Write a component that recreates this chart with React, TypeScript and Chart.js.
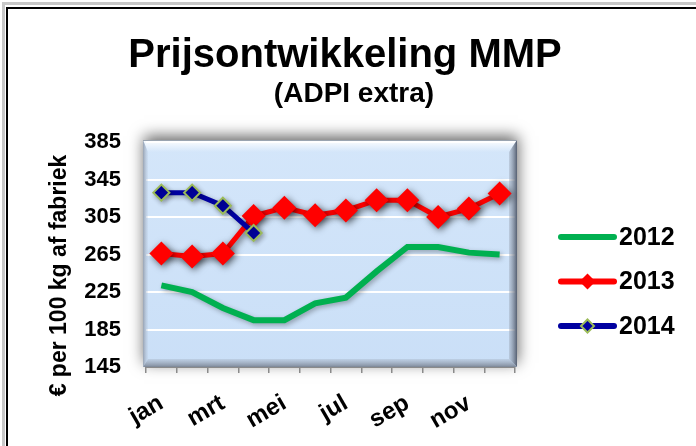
import React, { useEffect, useRef } from 'react';
import { Chart, registerables } from 'chart.js';

Chart.register(...registerables);

const FONT = '"Liberation Sans", Arial, Helvetica, sans-serif';

const months = ['jan', 'feb', 'mrt', 'apr', 'mei', 'jun', 'jul', 'aug', 'sep', 'okt', 'nov', 'dec'];
const seriesLabels = ['2012', '2013', '2014'];
const values2012 = [232, 225, 208, 195, 195, 213, 219, 247, 273, 273, 267, 265];
const values2013 = [266, 263, 266, 306, 315, 307, 312, 323, 323, 305, 314, 330];
const values2014 = [331, 331, 317, 288, null, null, null, null, null, null, null, null];
const yMin = 145;
const yMax = 385;
const yStep = 40;

const titleText = 'Prijsontwikkeling MMP';
const subtitleText = '(ADPI extra)';
const yTitleText = '€ per 100 kg af fabriek';

function diamond(ctx: CanvasRenderingContext2D, x: number, y: number, r: number) {
  ctx.beginPath();
  ctx.moveTo(x, y - r);
  ctx.lineTo(x + r, y);
  ctx.lineTo(x, y + r);
  ctx.lineTo(x - r, y);
  ctx.closePath();
}

const decor = {
  id: 'decor',
  beforeDraw(chart: any) {
    const { ctx, chartArea: a } = chart;
    ctx.save();
    ctx.fillStyle = '#ffffff';
    ctx.fillRect(0, 0, chart.width, chart.height);
    // outer frame
    ctx.strokeStyle = '#c8c8c8';
    ctx.lineWidth = 3;
    ctx.strokeRect(3.5, 3.5, chart.width + 10, chart.height + 10);
    ctx.strokeStyle = '#000000';
    ctx.lineWidth = 2;
    ctx.beginPath();
    ctx.moveTo(7, chart.height);
    ctx.lineTo(7, 8);
    ctx.lineTo(chart.width, 8);
    ctx.stroke();

    // plot box with shadow
    const bx = a.left - 3, by = a.top - 2, bw = a.right + 2 - bx, bh = a.bottom - by;
    ctx.shadowColor = 'rgba(0,0,0,0.6)';
    ctx.shadowBlur = 14;
    ctx.shadowOffsetX = 1;
    ctx.shadowOffsetY = -4;
    ctx.fillStyle = '#cfe2f8';
    ctx.fillRect(bx, by, bw, bh);
    ctx.shadowColor = 'rgba(0,0,0,0)';
    ctx.shadowBlur = 0;
    const g = ctx.createLinearGradient(0, by, 0, by + bh);
    g.addColorStop(0, '#d4e6fa');
    g.addColorStop(1, '#cadff7');
    ctx.fillStyle = g;
    ctx.fillRect(bx, by, bw, bh);
    ctx.restore();
  },
  beforeDatasetsDraw(chart: any) {
    const { ctx, chartArea: a } = chart;
    const bx = a.left - 3, by = a.top - 2, bw = a.right + 2 - bx, bh = a.bottom - by;
    const x2 = bx + bw, y2 = by + bh;
    const t = 12, r = 8, b = 8, l = 5;
    ctx.save();
    // top bevel
    let g = ctx.createLinearGradient(0, by, 0, by + t);
    g.addColorStop(0, 'rgba(255,255,255,0.95)');
    g.addColorStop(1, 'rgba(255,255,255,0)');
    ctx.fillStyle = g;
    ctx.beginPath();
    ctx.moveTo(bx, by); ctx.lineTo(x2, by); ctx.lineTo(x2 - r, by + t); ctx.lineTo(bx + l, by + t); ctx.closePath();
    ctx.fill();
    // left bevel
    g = ctx.createLinearGradient(bx, 0, bx + l, 0);
    g.addColorStop(0, '#98a3b3');
    g.addColorStop(1, 'rgba(180,195,215,0.2)');
    ctx.fillStyle = g;
    ctx.beginPath();
    ctx.moveTo(bx, by); ctx.lineTo(bx + l, by + t); ctx.lineTo(bx + l, y2 - b); ctx.lineTo(bx, y2); ctx.closePath();
    ctx.fill();
    // right bevel
    g = ctx.createLinearGradient(x2 - r, 0, x2, 0);
    g.addColorStop(0, 'rgba(150,160,175,0.35)');
    g.addColorStop(1, '#566072');
    ctx.fillStyle = g;
    ctx.beginPath();
    ctx.moveTo(x2, by); ctx.lineTo(x2, y2); ctx.lineTo(x2 - r, y2 - b); ctx.lineTo(x2 - r, by + t); ctx.closePath();
    ctx.fill();
    // bottom bevel
    g = ctx.createLinearGradient(0, y2 - b, 0, y2);
    g.addColorStop(0, 'rgba(150,160,175,0.25)');
    g.addColorStop(1, '#7f8a9b');
    ctx.fillStyle = g;
    ctx.beginPath();
    ctx.moveTo(bx, y2); ctx.lineTo(x2, y2); ctx.lineTo(x2 - r, y2 - b); ctx.lineTo(bx + l, y2 - b); ctx.closePath();
    ctx.fill();
    // top edge line
    ctx.strokeStyle = '#9aa4b0';
    ctx.lineWidth = 1;
    ctx.beginPath();
    ctx.moveTo(bx, by + 0.5); ctx.lineTo(x2, by + 0.5);
    ctx.stroke();
    ctx.restore();
  },
  beforeDatasetDraw(chart: any, args: any) {
    const ctx = chart.ctx;
    ctx.save();
    const idx = args.index;
    ctx.shadowColor = idx === 1 ? 'rgba(0,0,0,0.6)' : 'rgba(0,0,0,0.3)';
    ctx.shadowBlur = idx === 1 ? 7 : 5;
    ctx.shadowOffsetX = 2;
    ctx.shadowOffsetY = 2;
  },
  afterDatasetDraw(chart: any) {
    chart.ctx.restore();
  },
  afterDraw(chart: any) {
    const { ctx, chartArea: a } = chart;
    ctx.save();
    ctx.fillStyle = '#000';
    ctx.textAlign = 'center';
    ctx.textBaseline = 'alphabetic';
    ctx.font = `bold 40px ${FONT}`;
    ctx.fillText(titleText, 345, 67);
    ctx.font = `bold 28px ${FONT}`;
    ctx.fillText(subtitleText, 354, 102);

    // y axis title
    ctx.save();
    ctx.translate(66, (a.top + a.bottom) / 2 + 21);
    ctx.rotate(-Math.PI / 2);
    ctx.font = `bold 23px ${FONT}`;
    ctx.fillText(yTitleText, 0, 0);
    ctx.restore();

    // legend
    const ds = chart.data.datasets;
    for (let i = 0; i < ds.length; i++) {
      const d = ds[i];
      const y = 237 + i * 44.5;
      ctx.strokeStyle = d.borderColor;
      ctx.lineWidth = 6;
      ctx.lineCap = 'round';
      ctx.beginPath();
      ctx.moveTo(561, y);
      ctx.lineTo(614, y);
      ctx.stroke();
      if (d.pointRadius > 0) {
        const rr = i === 1 ? 8 : 6.5;
        diamond(ctx, 587.5, y, rr);
        ctx.fillStyle = d.pointBackgroundColor;
        ctx.fill();
        if (d.pointBorderWidth > 0) {
          ctx.strokeStyle = d.pointBorderColor;
          ctx.lineWidth = d.pointBorderWidth;
          ctx.lineCap = 'butt';
          ctx.stroke();
        }
      }
      ctx.fillStyle = '#000';
      ctx.font = `bold 25px ${FONT}`;
      ctx.textAlign = 'left';
      ctx.textBaseline = 'middle';
      ctx.fillText(d.label, 619, y + 1);
    }
    ctx.restore();
  },
};

export default function App() {
  const ref = useRef<HTMLCanvasElement | null>(null);
  useEffect(() => {
    if (!ref.current) return;
    const chart = new Chart(ref.current, {
      type: 'line',
      data: {
        labels: months,
        datasets: [
          {
            label: seriesLabels[0],
            data: values2012,
            borderColor: '#00b050',
            backgroundColor: '#00b050',
            borderWidth: 6,
            pointRadius: 0,
            pointBorderWidth: 0,
            tension: 0,
            order: 3,
          },
          {
            label: seriesLabels[1],
            data: values2013,
            borderColor: '#ff0000',
            backgroundColor: '#ff0000',
            borderWidth: 5,
            pointStyle: 'rectRot',
            pointRadius: 12,
            pointBackgroundColor: '#ff0000',
            pointBorderColor: '#ff0000',
            pointBorderWidth: 0,
            tension: 0,
            order: 2,
          },
          {
            label: seriesLabels[2],
            data: values2014,
            borderColor: '#0000a0',
            backgroundColor: '#0000a0',
            borderWidth: 5,
            pointStyle: 'rectRot',
            pointRadius: 8,
            pointBackgroundColor: '#0000a0',
            pointBorderColor: '#9bbb59',
            pointBorderWidth: 2,
            tension: 0,
            spanGaps: false,
            order: 1,
          },
        ] as any,
      },
      options: {
        responsive: false,
        animation: false,
        events: [],
        layout: { padding: { top: 142, right: 181, left: 0, bottom: 0 } },
        plugins: {
          legend: { display: false },
          title: { display: false },
          tooltip: { enabled: false },
        },
        scales: {
          x: {
            offset: true,
            afterFit: (s: any) => { s.height = 79; },
            grid: {
              offset: true,
              drawOnChartArea: false,
              drawTicks: true,
              tickLength: 6,
              color: '#8a8a8a',
              lineWidth: 1.5,
            },
            border: { display: true, color: '#8a8a8a', width: 2 },
            ticks: {
              autoSkip: false,
              minRotation: 30,
              maxRotation: 30,
              padding: 16,
              color: '#000',
              font: { family: FONT, size: 24, weight: 'bold' },
              callback: (_v: any, i: number) => (i % 2 === 0 ? months[i] : ''),
            },
          },
          y: {
            min: yMin,
            max: yMax,
            afterFit: (s: any) => { s.width = 146; },
            grid: { color: '#ffffff', lineWidth: 2, drawTicks: false },
            border: { display: false },
            ticks: {
              stepSize: yStep,
              padding: 25,
              color: '#000',
              font: { family: FONT, size: 22, weight: 'bold' },
            },
          },
        },
      } as any,
      plugins: [decor as any],
    });
    return () => chart.destroy();
  }, []);
  return (
    <div style={{ position: 'fixed', left: 0, top: 0, width: 696, height: 446 }}>
      <canvas ref={ref} width={696} height={446} style={{ display: 'block', width: 696, height: 446 }} />
    </div>
  );
}
